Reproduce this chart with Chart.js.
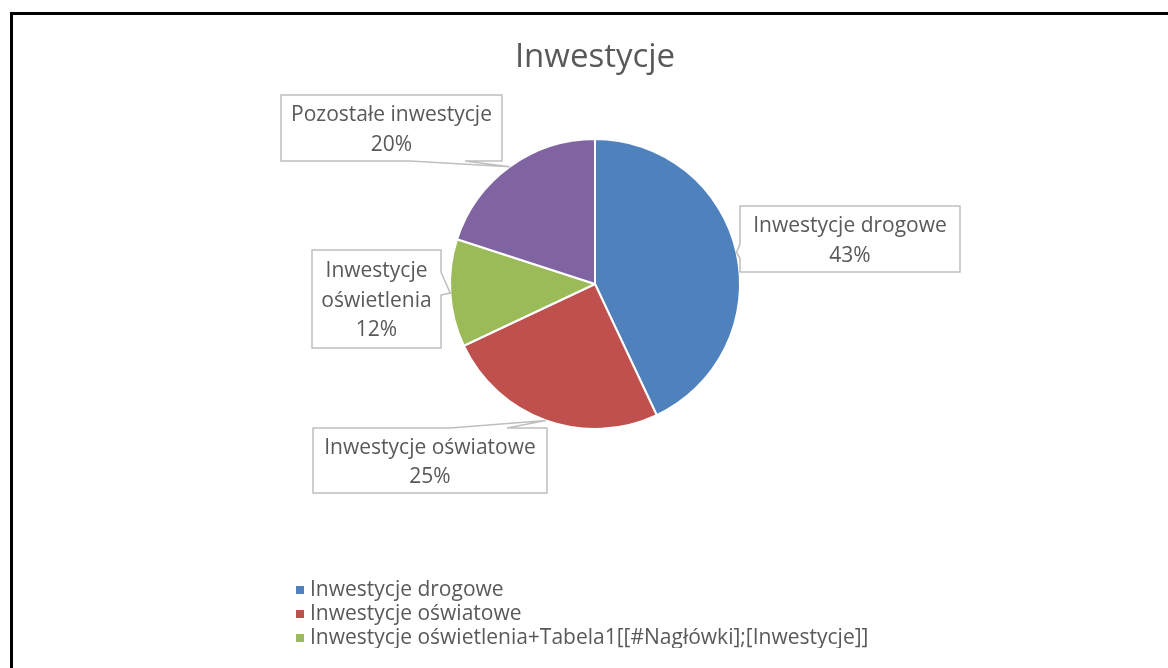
<!DOCTYPE html>
<html><head><meta charset="utf-8">
<script src="https://cdn.jsdelivr.net/npm/chart.js@4.4.0/dist/chart.umd.min.js"></script>
<style>html,body{margin:0;padding:0;background:#fff;overflow:hidden}canvas{display:block}</style>
</head><body><canvas id="c" width="1168" height="668"></canvas>
<script>
const chartTitle = 'Inwestycje';
const categories = ['Inwestycje drogowe', 'Inwestycje oświatowe', 'Inwestycje oświetlenia', 'Pozostałe inwestycje'];
const legendLabels = ['Inwestycje drogowe', 'Inwestycje oświatowe', 'Inwestycje oświetlenia+Tabela1[[#Nagłówki];[Inwestycje]]', 'Pozostałe inwestycje'];
const calloutNames = [['Inwestycje drogowe'], ['Inwestycje oświatowe'], ['Inwestycje', 'oświetlenia'], ['Pozostałe inwestycje']];
const values = [43, 25, 12, 20];
const colors = ['#4F81BD', '#C0504D', '#9BBB59', '#8064A2'];

const FONT = '"Open Sans", "Noto Sans", sans-serif';
const TEXT = '#595959';

// callout box layout (x, y, w, h, side of wedge, wedge base along that side)
const calloutBoxes = [
  {x: 740, y: 206, w: 220, h: 66, side: 'left',   base: [244, 258]},
  {x: 313, y: 428, w: 234, h: 65, side: 'top',    base: [450, 507]},
  {x: 312, y: 250, w: 129, h: 98, side: 'right',  base: [272, 295]},
  {x: 281, y: 95,  w: 221, h: 66, side: 'bottom', base: [410, 465]}
];

const framePlugin = {
  id: 'frame',
  beforeDraw(chart) {
    const ctx = chart.ctx;
    ctx.save();
    ctx.fillStyle = '#fff';
    ctx.fillRect(0, 0, chart.width, chart.height);
    ctx.strokeStyle = '#000';
    ctx.lineWidth = 3;
    ctx.strokeRect(11.5, 13.5, chart.width + 50, chart.height + 50);
    // title
    ctx.fillStyle = TEXT;
    ctx.font = '33px ' + FONT;
    ctx.textAlign = 'center';
    ctx.textBaseline = 'middle';
    ctx.fillText(chartTitle, 595, 58);
    ctx.restore();
  }
};

const calloutPlugin = {
  id: 'callouts',
  afterDatasetsDraw(chart) {
    const ctx = chart.ctx;
    const meta = chart.getDatasetMeta(0);
    const total = values.reduce((a, b) => a + b, 0);
    ctx.save();
    meta.data.forEach((arc, i) => {
      const b = calloutBoxes[i];
      const mid = (arc.startAngle + arc.endAngle) / 2;
      const tx = arc.x + Math.cos(mid) * arc.outerRadius;
      const ty = arc.y + Math.sin(mid) * arc.outerRadius;
      const L = b.x, R = b.x + b.w, T = b.y, B = b.y + b.h;
      const pts = [[L, T]];
      if (b.side === 'top') pts.push([b.base[0], T], [tx, ty], [b.base[1], T]);
      pts.push([R, T]);
      if (b.side === 'right') pts.push([R, b.base[0]], [tx, ty], [R, b.base[1]]);
      pts.push([R, B]);
      if (b.side === 'bottom') pts.push([b.base[1], B], [tx, ty], [b.base[0], B]);
      pts.push([L, B]);
      if (b.side === 'left') pts.push([L, b.base[1]], [tx, ty], [L, b.base[0]]);
      ctx.beginPath();
      pts.forEach((p, k) => k ? ctx.lineTo(p[0], p[1]) : ctx.moveTo(p[0], p[1]));
      ctx.closePath();
      ctx.fillStyle = '#fff';
      ctx.fill();
      ctx.strokeStyle = '#BFBFBF';
      ctx.lineWidth = 1.5;
      ctx.stroke();
      const lines = calloutNames[i].concat([Math.round(values[i] / total * 100) + '%']);
      const lh = 29.5;
      const cx = b.x + b.w / 2, cy = b.y + b.h / 2 + 2;
      ctx.fillStyle = TEXT;
      ctx.font = '21px ' + FONT;
      ctx.textAlign = 'center';
      ctx.textBaseline = 'middle';
      lines.forEach((t, k) => {
        ctx.fillText(t, cx, cy + (k - (lines.length - 1) / 2) * lh);
      });
    });
    ctx.restore();
  }
};

const legendPlugin = {
  id: 'customLegend',
  afterDraw(chart) {
    const ctx = chart.ctx;
    ctx.save();
    ctx.beginPath();
    ctx.rect(280, 570, 700, 78);
    ctx.clip();
    ctx.font = '21px ' + FONT;
    ctx.textAlign = 'left';
    ctx.textBaseline = 'middle';
    legendLabels.forEach((t, i) => {
      const y = 589 + i * 24;
      ctx.fillStyle = colors[i];
      ctx.fillRect(296, y - 3, 8, 8);
      ctx.fillStyle = TEXT;
      ctx.fillText(t, 310, y + 1);
    });
    ctx.restore();
  }
};

new Chart(document.getElementById('c'), {
  type: 'pie',
  data: {
    labels: categories,
    datasets: [{
      data: values,
      backgroundColor: colors,
      borderColor: '#fff',
      borderWidth: 2,
      hoverOffset: 0
    }]
  },
  options: {
    responsive: false,
    animation: false,
    devicePixelRatio: 1,
    layout: {padding: {left: 449, right: 427, top: 138, bottom: 238}},
    plugins: {legend: {display: false}, tooltip: {enabled: false}, title: {display: false}}
  },
  plugins: [framePlugin, calloutPlugin, legendPlugin]
});
</script>
</body></html>
